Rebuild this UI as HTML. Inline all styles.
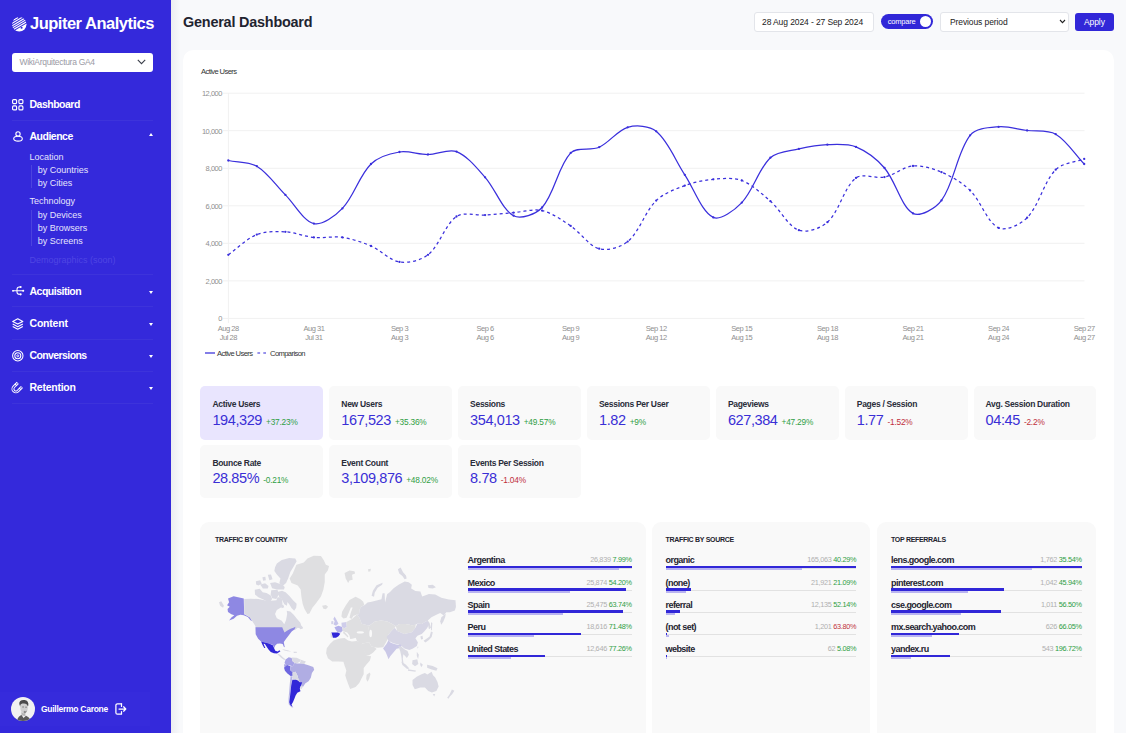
<!DOCTYPE html>
<html><head><meta charset="utf-8"><title>Jupiter Analytics</title>
<style>
*{box-sizing:border-box;margin:0;padding:0}
html,body{width:1126px;height:733px;overflow:hidden;background:#f8f9fb;font-family:"Liberation Sans",sans-serif;}
body{position:relative}
.abs{position:absolute}
#side{position:absolute;left:0;top:0;width:171px;height:733px;background:#3429db;color:#fff}
#main{position:absolute;left:182.9px;top:49.8px;width:930.8px;height:700px;background:#fff;border-radius:10.5px}
.chart{position:absolute;left:0;top:0;font-family:"Liberation Sans",sans-serif}
h1{position:absolute;left:183px;top:14px;font-size:14.4px;font-weight:bold;color:#1f2430;letter-spacing:-0.2px;white-space:nowrap}
.card{position:absolute;width:122.8px;height:53.2px;background:#f9f9f9;border-radius:5px}
.card.act{background:#e9e5fe}
.cl{position:absolute;left:12px;top:12.3px;font-size:8.5px;font-weight:bold;color:#2a2d3a;white-space:nowrap;letter-spacing:-0.3px}
.cv{position:absolute;left:12px;top:24.5px;white-space:nowrap}
.cv .v{font-size:14.5px;color:#3a2fd6;letter-spacing:-0.4px}
.cv .c{font-size:8.3px;margin-left:4px;letter-spacing:-0.2px}
.g{color:#2f9e44} .r{color:#c0303b}
.panel{position:absolute;top:521.7px;height:230px;background:#f9f9f9;border-radius:9px}
.pt{position:absolute;top:536px;font-size:7px;font-weight:bold;color:#1f2430;letter-spacing:-0.3px;white-space:nowrap}
.row{position:absolute;height:20px}
.row .n{position:absolute;left:0;top:2.1px;font-size:9px;font-weight:bold;color:#1f2430;white-space:nowrap;letter-spacing:-0.55px}
.row .rt{position:absolute;right:0;top:2px;font-size:7.3px;white-space:nowrap;letter-spacing:-0.3px}
.row .q{color:#b0b0b0}
.row .ln{position:absolute;left:0;right:0;top:14.5px;height:1px;background:#e2e2e2}
.row .b1{position:absolute;left:0;top:13.1px;height:2.4px;background:#3127d8}
.row .b2{position:absolute;left:0;top:15.4px;height:2.1px;background:#b9b4f1}
</style></head><body>
<div id="side"><style>
#side .t{position:absolute;white-space:nowrap;color:#fff}
#side .b{font-weight:bold;font-size:10.5px;left:29.5px;letter-spacing:-0.5px}
#side .s{font-size:9px;left:29.5px;color:#e6e4fb}
#side .s2{left:37.7px}
#side .dv{position:absolute;left:12px;width:141px;height:1px;background:#3d33db}
#side .vl{position:absolute;left:31px;width:1px;background:#4c43de}
#side svg{position:absolute;overflow:visible}
#side .ca{position:absolute;left:149px;width:0;height:0;border-left:2.6px solid transparent;border-right:2.6px solid transparent}
#side .up{border-bottom:3.8px solid #fff}
#side .dn{border-top:3.8px solid #fff}
</style>
<svg style="left:11.5px;top:17px" width="14.5" height="14.5" viewBox="0 0 14.5 14.5"><defs><clipPath id="lc"><circle cx="7.25" cy="7.25" r="7.25"/></clipPath></defs><g clip-path="url(#lc)" stroke="#fff" stroke-width="1.15" fill="none"><path d="M1.2 3.3 L6 0.4 M-1 7 L11 -0.2 M-1 9.4 L14 0.4 M-1 11.8 L15 2.2 M1.5 12.6 L15 4.5"/><path d="M2.5 13.8 L15 6.2 V15 H2.5 Z" fill="#fff" stroke="none"/><circle cx="9.6" cy="10.7" r="1.05" fill="#3429db" stroke="none"/></g></svg>
<div class="t" id="logo" style="left:30px;top:13.5px;font-size:16.5px;font-weight:bold;letter-spacing:-0.5px">Jupiter Analytics</div>
<div style="position:absolute;left:12px;top:52.5px;width:141px;height:19px;background:#fff;border-radius:3px"></div>
<div class="t" id="sel" style="left:19.5px;top:57px;font-size:8.5px;color:#9a9aa5;letter-spacing:-0.3px">WikiArquitectura GA4</div>
<svg style="left:136.5px;top:58.5px" width="9" height="6" viewBox="0 0 9 6"><path d="M0.8 0.8 L4.5 4.6 L8.2 0.8" fill="none" stroke="#3b3f4a" stroke-width="1.1"/></svg>

<svg style="left:12px;top:99px" width="11.5" height="11.5" viewBox="0 0 11.5 11.5" fill="none" stroke="#fff" stroke-width="1.15"><rect x="0.6" y="0.6" width="4" height="4" rx="1"/><rect x="6.9" y="0.6" width="4" height="4" rx="1"/><rect x="0.6" y="6.9" width="4" height="4" rx="1"/><rect x="6.9" y="6.9" width="4" height="4" rx="1"/></svg>
<div class="t b" id="n1" style="top:98px">Dashboard</div>
<div class="dv" style="top:120px"></div>

<svg style="left:12.5px;top:131px" width="10" height="11.5" viewBox="0 0 10 11.5" fill="none" stroke="#fff" stroke-width="1.1"><ellipse cx="5" cy="7.7" rx="4.3" ry="2.45"/><circle cx="5" cy="2.9" r="2.15" fill="#3429db"/></svg>
<div class="t b" id="n2" style="top:130px">Audience</div>
<div class="ca up" style="top:132.5px"></div>
<div class="t s" id="s1" style="top:151.5px">Location</div>
<div class="vl" style="top:164.5px;height:23px"></div>
<div class="t s s2" id="s2" style="top:164.7px">by Countries</div>
<div class="t s s2" id="s3" style="top:177.7px">by Cities</div>
<div class="t s" id="s4" style="top:196px">Technology</div>
<div class="vl" style="top:209.5px;height:36px"></div>
<div class="t s s2" id="s5" style="top:209.5px">by Devices</div>
<div class="t s s2" id="s6" style="top:222.5px">by Browsers</div>
<div class="t s s2" id="s7" style="top:235.5px">by Screens</div>
<div class="t s" id="s8" style="top:255px;color:#4f46e3">Demographics (soon)</div>
<div class="dv" style="top:274px"></div>

<svg style="left:11.5px;top:286px" width="12.5" height="10" viewBox="0 0 12.5 10" fill="none" stroke="#fff" stroke-width="1.05" stroke-linecap="round"><path d="M0.9 4.8 H11.3"/><path d="M8.4 1 H7.3 C5.6 1 5 2 5 3.4 V6 C5 7.5 5.6 8.3 7.3 8.3 H8.4"/><g fill="#fff" stroke="none"><circle cx="1" cy="4.8" r="0.9"/><circle cx="11.2" cy="4.8" r="1.05"/><circle cx="8.6" cy="1" r="1.1"/><circle cx="8.6" cy="8.3" r="1.1"/></g></svg>
<div class="t b" id="n3" style="top:284.5px">Acquisition</div>
<div class="ca dn" style="top:291px"></div>
<div class="dv" style="top:306px"></div>

<svg style="left:12px;top:317.5px" width="11.5" height="12" viewBox="0 0 11.5 12" fill="none" stroke="#fff" stroke-width="1.1" stroke-linejoin="round"><path d="M5.75 0.7 L10.8 3.4 L5.75 6.1 L0.7 3.4 Z"/><path d="M0.7 6 L5.75 8.7 L10.8 6"/><path d="M0.7 8.6 L5.75 11.3 L10.8 8.6"/></svg>
<div class="t b" id="n4" style="top:316.5px;letter-spacing:-0.2px">Content</div>
<div class="ca dn" style="top:323px"></div>
<div class="dv" style="top:338.5px"></div>

<svg style="left:11.7px;top:349.7px" width="11.6" height="11.6" viewBox="0 0 11.6 11.6" fill="none" stroke="#fff" stroke-width="1.05"><circle cx="5.8" cy="5.8" r="5.2"/><circle cx="5.8" cy="5.8" r="3"/><circle cx="5.8" cy="5.8" r="1" stroke-width="0.9"/></svg>
<div class="t b" id="n5" style="top:349px;letter-spacing:-0.6px">Conversions</div>
<div class="ca dn" style="top:355px"></div>
<div class="dv" style="top:371px"></div>

<svg style="left:0;top:0" width="40" height="400" viewBox="0 0 40 400" fill="none"><g transform="translate(15.9,388.9) rotate(-45)" stroke-linecap="butt"><path d="M5.6 -2.95 H0 A2.95 2.95 0 0 0 0 2.95 H5.6" stroke="#fff" stroke-width="2.9"/><path d="M5.0 -2.95 H0 A2.95 2.95 0 0 0 0 2.95 H5.0" stroke="#3429db" stroke-width="1.0"/><path d="M2.9 -4.4 V-1.5 M2.9 1.5 V4.4" stroke="#fff" stroke-width="1.1"/></g></svg>
<div class="t b" id="n6" style="top:381px;letter-spacing:-0.25px">Retention</div>
<div class="ca dn" style="top:387px"></div>
<div class="dv" style="top:403px"></div>

<div style="position:absolute;left:0;top:692px;width:150px;height:34px;background:#362bdc"></div>
<svg style="left:11px;top:696.5px" width="24" height="24" viewBox="0 0 24 24"><defs><clipPath id="av"><circle cx="12" cy="12" r="12"/></clipPath></defs><g clip-path="url(#av)"><rect width="24" height="24" fill="#f1f1f1"/><path d="M8.3 7 C8 4 10.5 2.5 13.5 3 C16.5 3.3 17.8 5.5 17.3 8.5 L16.8 9.5 C16 7.5 14.5 6.6 12 7 C10.5 7.2 9.5 8 9.3 10 Z" fill="#4a4a4a"/><path d="M9.3 8.5 C9.5 7 11 6.5 13 6.6 C15.3 6.7 16.8 8 16.8 10.5 C16.8 13.5 15.5 16.3 13.6 16.5 C11.5 16.6 9.8 14.5 9.4 12 Z" fill="#cfcfcf"/><path d="M13 13.8 C14 14.5 15 14.3 15.8 13.6 C15.5 15.3 14.6 16.4 13.6 16.5 C12.8 16.4 12.5 15 13 13.8Z" fill="#8c8c8c"/><path d="M10.3 15 L10.5 18.5 L14.5 19 L14.2 16.3 C12.5 16.8 11.2 16 10.3 15Z" fill="#b5b5b5"/><path d="M6 24 C6.5 20.5 8.5 18.5 10.5 18 L12.5 21 L15 18.8 C17.5 19.8 19 21.5 19.5 24 Z" fill="#5a5a5a"/><path d="M11.3 10 h1.6 M14.3 10.2 h1.5" stroke="#555" stroke-width="0.7"/></g></svg>
<div class="t" id="usr" style="left:41px;top:703.5px;font-size:8.5px;font-weight:bold;letter-spacing:-0.27px">Guillermo Carone</div>
<svg style="left:115px;top:702.5px" width="12" height="12" viewBox="0 0 12 12" fill="none" stroke="#fff" stroke-width="1.25" stroke-linecap="round" stroke-linejoin="round"><path d="M6.5 0.8 H2.4 C1.5 0.8 0.9 1.4 0.9 2.3 V9.7 C0.9 10.6 1.5 11.2 2.4 11.2 H6.5 V8.6"/><path d="M6.5 0.8 V3.4"/><path d="M4 6 H10.6 M8.6 3.8 L10.8 6 L8.6 8.2"/></svg>
</div>
<div class="abs" style="left:171px;top:0;width:9px;height:733px;background:linear-gradient(to right,#ecedf0,#f8f9fb)"></div>
<h1>General Dashboard</h1>
<div class="abs" style="left:754px;top:11.5px;width:120px;height:20px;background:#fff;border:1px solid #e3e5ea;border-radius:3px;font-size:8.5px;color:#222;line-height:18.5px;padding-left:7px;letter-spacing:-0.1px;white-space:nowrap">28 Aug 2024 - 27 Sep 2024</div>
<div class="abs" style="left:880.7px;top:14.4px;width:52px;height:14.6px;background:#3127d8;border-radius:8px;color:#fff;font-size:7.5px;line-height:16.4px;padding-left:7px;letter-spacing:-0.2px">compare<span class="abs" style="right:1.6px;top:1.6px;width:11.4px;height:11.4px;border-radius:6px;background:#fff"></span></div>
<div class="abs" style="left:940px;top:11.5px;width:129px;height:20px;background:#fff;border:1px solid #e3e5ea;border-radius:3px;font-size:8.5px;color:#222;line-height:18.5px;padding-left:9px;letter-spacing:-0.1px">Previous period<svg class="abs" style="right:2.3px;top:6.5px" width="7" height="5" viewBox="0 0 7 5"><path d="M1 1 L3.5 3.6 L6 1" fill="none" stroke="#222" stroke-width="1.1"/></svg></div>
<div class="abs" style="left:1075.2px;top:12.5px;width:38.5px;height:18.2px;background:#3127d8;border-radius:3px;color:#fff;font-size:8.5px;line-height:19.6px;text-align:center;letter-spacing:-0.1px">Apply</div>
<div id="main"></div>
<svg class="chart" width="1126" height="733" viewBox="0 0 1126 733">
<g stroke="#f1f1f1" stroke-width="1"><line x1="223" x2="1084.5" y1="318.4" y2="318.4"/><line x1="223" x2="1084.5" y1="280.9" y2="280.9"/><line x1="223" x2="1084.5" y1="243.3" y2="243.3"/><line x1="223" x2="1084.5" y1="205.8" y2="205.8"/><line x1="223" x2="1084.5" y1="168.3" y2="168.3"/><line x1="223" x2="1084.5" y1="130.7" y2="130.7"/><line x1="223" x2="1084.5" y1="93.2" y2="93.2"/><line x1="228.4" x2="228.4" y1="93" y2="323"/></g>
<g font-size="7.5" fill="#8f8f8f" letter-spacing="-0.47"><text x="222" y="321.2" text-anchor="end">0</text><text x="222" y="283.7" text-anchor="end">2,000</text><text x="222" y="246.1" text-anchor="end">4,000</text><text x="222" y="208.6" text-anchor="end">6,000</text><text x="222" y="171.1" text-anchor="end">8,000</text><text x="222" y="133.5" text-anchor="end">10,000</text><text x="222" y="96.0" text-anchor="end">12,000</text><text x="228.3" y="331.4" text-anchor="middle">Aug 28</text><text x="228.3" y="340.1" text-anchor="middle">Jul 28</text><text x="313.9" y="331.4" text-anchor="middle">Aug 31</text><text x="313.9" y="340.1" text-anchor="middle">Jul 31</text><text x="399.5" y="331.4" text-anchor="middle">Sep 3</text><text x="399.5" y="340.1" text-anchor="middle">Aug 3</text><text x="485.1" y="331.4" text-anchor="middle">Sep 6</text><text x="485.1" y="340.1" text-anchor="middle">Aug 6</text><text x="570.7" y="331.4" text-anchor="middle">Sep 9</text><text x="570.7" y="340.1" text-anchor="middle">Aug 9</text><text x="656.2" y="331.4" text-anchor="middle">Sep 12</text><text x="656.2" y="340.1" text-anchor="middle">Aug 12</text><text x="741.8" y="331.4" text-anchor="middle">Sep 15</text><text x="741.8" y="340.1" text-anchor="middle">Aug 15</text><text x="827.4" y="331.4" text-anchor="middle">Sep 18</text><text x="827.4" y="340.1" text-anchor="middle">Aug 18</text><text x="913.0" y="331.4" text-anchor="middle">Sep 21</text><text x="913.0" y="340.1" text-anchor="middle">Aug 21</text><text x="998.6" y="331.4" text-anchor="middle">Sep 24</text><text x="998.6" y="340.1" text-anchor="middle">Aug 24</text><text x="1084.2" y="331.4" text-anchor="middle">Sep 27</text><text x="1084.2" y="340.1" text-anchor="middle">Aug 27</text></g>
<text x="201" y="73.7" font-size="7.6" fill="#333" letter-spacing="-0.6">Active Users</text>
<path d="M228.3 160.5 C237.7 162.4 249.0 161.5 256.8 166.2 C267.8 172.8 275.9 185.4 285.4 194.9 C294.8 204.4 303.4 221.1 313.9 223.6 C322.3 225.6 335.3 215.9 342.4 208.4 C354.1 196.2 359.1 175.7 371.0 164.0 C377.9 157.1 389.7 153.6 399.5 152.0 C408.5 150.5 418.6 154.6 428.0 154.5 C437.4 154.4 448.5 148.4 456.5 151.6 C467.3 155.9 476.7 167.9 485.1 177.3 C495.5 189.0 502.0 209.6 513.6 215.7 C520.8 219.5 536.0 214.2 542.1 207.5 C554.8 193.5 557.9 166.4 570.7 152.9 C576.7 146.5 590.6 151.0 599.2 147.2 C609.4 142.6 617.4 130.2 627.7 127.3 C636.3 124.9 649.5 125.7 656.2 131.3 C668.4 141.4 675.3 160.5 684.8 174.8 C694.1 188.9 701.7 211.8 713.3 217.4 C720.6 220.9 734.7 210.0 741.8 202.6 C753.6 190.3 758.3 169.1 770.4 157.7 C777.1 151.3 789.3 151.1 798.9 148.9 C808.2 146.8 818.0 145.0 827.4 144.7 C836.8 144.4 847.6 143.5 856.0 146.9 C866.4 151.2 877.0 159.3 884.5 168.0 C895.8 181.2 901.1 206.7 913.0 213.4 C920.0 217.3 935.8 208.3 941.5 200.4 C954.6 182.5 956.8 152.4 970.1 135.3 C975.6 128.1 989.0 127.6 998.6 126.8 C1007.9 126.0 1017.7 129.3 1027.1 130.5 C1036.6 131.7 1047.9 129.7 1055.7 134.2 C1066.8 140.7 1074.8 154.2 1084.2 164.0" fill="none" stroke="#3a2fdc" stroke-width="1.25"/>
<path d="M228.3 254.8 C237.7 248.1 246.5 238.8 256.8 234.6 C265.3 231.2 276.0 231.3 285.4 231.8 C294.8 232.3 304.4 236.5 313.9 237.4 C323.2 238.3 333.2 236.0 342.4 237.4 C352.0 238.8 362.0 242.1 371.0 246.0 C380.8 250.2 389.6 260.4 399.5 261.9 C408.4 263.3 420.8 260.5 428.0 254.8 C439.7 245.5 444.8 224.7 456.5 216.5 C463.6 211.6 475.7 215.7 485.1 215.1 C494.5 214.5 504.2 213.3 513.6 212.6 C523.0 211.9 533.3 208.5 542.1 210.6 C552.1 212.9 561.8 220.0 570.7 225.9 C580.6 232.6 588.8 245.8 599.2 248.7 C607.6 251.0 620.7 247.5 627.7 241.6 C639.6 231.6 644.8 211.8 656.2 200.6 C663.6 193.4 674.9 189.3 684.8 185.6 C693.7 182.3 703.8 180.2 713.3 179.3 C722.6 178.5 733.4 177.3 741.8 180.5 C752.2 184.5 761.6 193.6 770.4 201.2 C780.5 210.0 788.0 226.2 798.9 230.2 C806.8 233.1 820.7 228.4 827.4 222.2 C839.5 211.2 843.7 187.6 856.0 177.9 C862.6 172.7 875.4 179.0 884.5 177.1 C894.2 175.1 903.4 166.8 913.0 166.0 C922.2 165.2 932.8 168.5 941.5 172.2 C951.7 176.5 962.2 182.7 970.1 190.4 C981.0 201.1 987.1 222.4 998.6 227.9 C1006.0 231.4 1020.5 224.5 1027.1 217.7 C1039.3 205.2 1043.5 182.2 1055.7 169.7 C1062.3 162.8 1074.8 162.5 1084.2 158.9" fill="none" stroke="#3a2fdc" stroke-width="1.25" stroke-dasharray="3 3"/>
<g fill="#3a2fdc"><circle cx="228.3" cy="160.5" r="1.15"/><circle cx="256.8" cy="166.2" r="1.15"/><circle cx="285.4" cy="194.9" r="1.15"/><circle cx="313.9" cy="223.6" r="1.15"/><circle cx="342.4" cy="208.4" r="1.15"/><circle cx="371.0" cy="164.0" r="1.15"/><circle cx="399.5" cy="152.0" r="1.15"/><circle cx="428.0" cy="154.5" r="1.15"/><circle cx="456.5" cy="151.6" r="1.15"/><circle cx="485.1" cy="177.3" r="1.15"/><circle cx="513.6" cy="215.7" r="1.15"/><circle cx="542.1" cy="207.5" r="1.15"/><circle cx="570.7" cy="152.9" r="1.15"/><circle cx="599.2" cy="147.2" r="1.15"/><circle cx="627.7" cy="127.3" r="1.15"/><circle cx="656.2" cy="131.3" r="1.15"/><circle cx="684.8" cy="174.8" r="1.15"/><circle cx="713.3" cy="217.4" r="1.15"/><circle cx="741.8" cy="202.6" r="1.15"/><circle cx="770.4" cy="157.7" r="1.15"/><circle cx="798.9" cy="148.9" r="1.15"/><circle cx="827.4" cy="144.7" r="1.15"/><circle cx="856.0" cy="146.9" r="1.15"/><circle cx="884.5" cy="168.0" r="1.15"/><circle cx="913.0" cy="213.4" r="1.15"/><circle cx="941.5" cy="200.4" r="1.15"/><circle cx="970.1" cy="135.3" r="1.15"/><circle cx="998.6" cy="126.8" r="1.15"/><circle cx="1027.1" cy="130.5" r="1.15"/><circle cx="1055.7" cy="134.2" r="1.15"/><circle cx="1084.2" cy="164.0" r="1.15"/><circle cx="228.3" cy="254.8" r="1.15"/><circle cx="256.8" cy="234.6" r="1.15"/><circle cx="285.4" cy="231.8" r="1.15"/><circle cx="313.9" cy="237.4" r="1.15"/><circle cx="342.4" cy="237.4" r="1.15"/><circle cx="371.0" cy="246.0" r="1.15"/><circle cx="399.5" cy="261.9" r="1.15"/><circle cx="428.0" cy="254.8" r="1.15"/><circle cx="456.5" cy="216.5" r="1.15"/><circle cx="485.1" cy="215.1" r="1.15"/><circle cx="513.6" cy="212.6" r="1.15"/><circle cx="542.1" cy="210.6" r="1.15"/><circle cx="570.7" cy="225.9" r="1.15"/><circle cx="599.2" cy="248.7" r="1.15"/><circle cx="627.7" cy="241.6" r="1.15"/><circle cx="656.2" cy="200.6" r="1.15"/><circle cx="684.8" cy="185.6" r="1.15"/><circle cx="713.3" cy="179.3" r="1.15"/><circle cx="741.8" cy="180.5" r="1.15"/><circle cx="770.4" cy="201.2" r="1.15"/><circle cx="798.9" cy="230.2" r="1.15"/><circle cx="827.4" cy="222.2" r="1.15"/><circle cx="856.0" cy="177.9" r="1.15"/><circle cx="884.5" cy="177.1" r="1.15"/><circle cx="913.0" cy="166.0" r="1.15"/><circle cx="941.5" cy="172.2" r="1.15"/><circle cx="970.1" cy="190.4" r="1.15"/><circle cx="998.6" cy="227.9" r="1.15"/><circle cx="1027.1" cy="217.7" r="1.15"/><circle cx="1055.7" cy="169.7" r="1.15"/><circle cx="1084.2" cy="158.9" r="1.15"/></g>
<line x1="205" x2="215" y1="353" y2="353" stroke="#3127d8" stroke-width="1.2"/>
<text x="217" y="355.8" font-size="7.6" fill="#333" letter-spacing="-0.6">Active Users</text>
<line x1="257.4" x2="266.2" y1="353" y2="353" stroke="#3127d8" stroke-width="1.2" stroke-dasharray="2.7 3.2"/>
<text x="270" y="355.8" font-size="7.6" fill="#333" letter-spacing="-0.6">Comparison</text>
</svg>
<div class="card act" style="left:200.4px;top:386.4px"><div class="cl" style="top:12.3px">Active Users</div><div class="cv" style="top:24.5px"><span class="v">194,329</span><span class="c g">+37.23%</span></div></div><div class="card" style="left:329.3px;top:386.4px"><div class="cl" style="top:12.3px">New Users</div><div class="cv" style="top:24.5px"><span class="v">167,523</span><span class="c g">+35.36%</span></div></div><div class="card" style="left:458.1px;top:386.4px"><div class="cl" style="top:12.3px">Sessions</div><div class="cv" style="top:24.5px"><span class="v">354,013</span><span class="c g">+49.57%</span></div></div><div class="card" style="left:587.0px;top:386.4px"><div class="cl" style="top:12.3px">Sessions Per User</div><div class="cv" style="top:24.5px"><span class="v">1.82</span><span class="c g">+9%</span></div></div><div class="card" style="left:715.9px;top:386.4px"><div class="cl" style="top:12.3px">Pageviews</div><div class="cv" style="top:24.5px"><span class="v">627,384</span><span class="c g">+47.29%</span></div></div><div class="card" style="left:844.8px;top:386.4px"><div class="cl" style="top:12.3px">Pages / Session</div><div class="cv" style="top:24.5px"><span class="v">1.77</span><span class="c r">-1.52%</span></div></div><div class="card" style="left:973.6px;top:386.4px"><div class="cl" style="top:12.3px">Avg. Session Duration</div><div class="cv" style="top:24.5px"><span class="v">04:45</span><span class="c r">-2.2%</span></div></div><div class="card" style="left:200.4px;top:445.2px"><div class="cl" style="top:12.9px">Bounce Rate</div><div class="cv" style="top:23.9px"><span class="v">28.85%</span><span class="c g">-0.21%</span></div></div><div class="card" style="left:329.3px;top:445.2px"><div class="cl" style="top:12.9px">Event Count</div><div class="cv" style="top:23.9px"><span class="v">3,109,876</span><span class="c g">+48.02%</span></div></div><div class="card" style="left:458.1px;top:445.2px"><div class="cl" style="top:12.9px">Events Per Session</div><div class="cv" style="top:23.9px"><span class="v">8.78</span><span class="c r">-1.04%</span></div></div>
<div class="panel" style="left:200.4px;width:445.4px"></div>
<div class="panel" style="left:651.6px;width:218.9px"></div>
<div class="panel" style="left:877px;width:219.4px"></div>
<div class="pt" style="left:215px">TRAFFIC BY COUNTRY</div>
<div class="pt" style="left:665.5px">TRAFFIC BY SOURCE</div>
<div class="pt" style="left:891px">TOP REFERRALS</div>
<svg style="position:absolute;left:210px;top:550px" width="250" height="165" viewBox="0 0 1111 733"><polygon fill="#dadae3" points="40,232 50,228 62,248 58,256 45,248"/><polygon fill="#8e88e3" points="80,215 105,205 150,215 152,285 165,292 178,300 188,315 180,312 168,298 150,290 135,288 120,292 105,305 85,313 95,300 108,290 95,285 80,275 78,262 88,252 76,245 85,232"/><polygon fill="#dadae3" points="152,218 182,216 215,218 242,223 270,225 295,223 300,210 311,210 320,219 322,240 317,254 297,267 289,284 297,303 319,314 330,330 338,311 343,284 341,270 357,273 373,289 387,306 401,322 406,336 413,345 403,349 390,345 379,354 368,357 362,354 352,360 338,367 327,373 322,382 210,382 204,345 199,333 188,317 177,299 166,292 152,284"/><polygon fill="#dadae3" points="297,60 319,44 352,35 379,38 385,50 373,71 357,98 347,126 338,147 324,159 308,148 313,127 297,109 286,93 289,76"/><polygon fill="#dadae3" points="300,187 320,181 336,188 353,204 369,223 385,239 383,256 374,270 362,258 352,241 344,231 342,248 330,241 319,219 307,208"/><polygon fill="#dadae3" points="199,176 221,172 234,188 251,191 270,202 276,218 270,226 251,226 232,218 215,210 200,198"/><polygon fill="#dadae3" points="204,139 223,134 230,150 215,158 205,153"/><polygon fill="#dadae3" points="223,153 245,148 260,160 257,171 235,171"/><polygon fill="#dadae3" points="233,121 246,119 248,134 236,136"/><polygon fill="#dadae3" points="257,110 271,109 278,130 264,134"/><polygon fill="#dadae3" points="267,146 289,143 322,154 332,164 329,175 297,175 276,170"/><polygon fill="#dadae3" points="272,179 300,176 306,196 295,218 276,214 270,196"/><polygon fill="#dadae3" points="313,246 325,242 330,254 319,259"/><polygon fill="#dadae3" points="394,337 409,339 413,349 401,352"/><polygon fill="#dfdfe1" points="354,126 368,104 384,65 417,55 433,38 461,25 493,27 505,44 515,65 529,71 524,90 510,109 510,142 504,175 493,207 472,235 455,256 442,282 433,284 420,262 412,240 406,207 403,175 390,158 362,147"/><polygon fill="#dfdfe1" points="498,248 515,244 525,252 515,263 504,261"/><polygon fill="#8e88e3" points="202,343 321,343 326,355 331,367 344,358 358,350 371,345 380,341 376,352 363,362 352,377 340,392 328,409 331,426 333,432 328,430 323,418 311,415 298,416 289,425 286,435 282,426 278,421 262,415 240,410 227,407 214,394 203,374"/><polygon fill="#3127d8" points="227,407 240,410 262,415 279,423 285,437 290,448 301,451 308,445 313,450 298,460 284,459 270,453 260,442 251,429 244,418 238,416 241,424 246,435 241,435 233,421"/><polygon fill="#dadae3" points="298,460 311,464 325,478 337,486 331,489 320,482 306,470"/><polygon fill="#dadae3" points="320,440 344,445 362,451 345,450 328,445"/><polygon fill="#dadae3" points="371,452 385,452 387,457 373,458"/><polygon fill="#a7a3e6" points="336,486 350,476 363,480 367,494 377,502 367,517 350,511 339,511 331,502"/><polygon fill="#dadae3" points="363,478 385,479 404,488 399,497 385,504 377,502 367,494"/><polygon fill="#dadae3" points="404,488 426,495 419,507 399,504"/><polygon fill="#a9a5e6" points="329,508 344,509 342,522 331,524"/><polygon fill="#6d66e0" points="329,523 344,511 358,517 356,533 369,544 368,559 358,560 344,549 333,536"/><polygon fill="#b0ade3" points="367,517 377,502 385,504 399,504 419,507 437,512 459,520 463,532 453,547 448,568 438,583 423,593 413,609 404,603 399,588 393,573 388,557 380,541 369,544 356,533 358,517"/><polygon fill="#dadae3" points="365,544 380,541 388,557 393,573 399,577 382,577 369,574 367,559"/><polygon fill="#dadae3" points="393,573 399,588 411,589 404,602 399,590 389,579"/><polygon fill="#b5b2e6" points="358,560 367,562 365,577 361,601 357,628 354,655 352,677 358,691 371,700 362,699 350,685 349,661 352,628 355,590"/><polygon fill="#3127d8" points="366,577 382,577 391,580 399,588 410,588 405,601 399,615 402,628 388,634 380,648 375,661 369,675 362,688 368,696 358,691 352,677 355,655 358,628 361,601"/><polygon fill="#dadae3" points="405,601 413,607 407,618 400,615"/><polygon fill="#c8c6ea" points="554,295 563,312 571,328 560,337 549,331 554,317 548,306"/><polygon fill="#d3d2e8" points="539,317 548,315 548,329 539,330"/><polygon fill="#b3b0ea" points="553,343 571,336 587,342 590,358 582,367 568,367 560,356"/><polygon fill="#3127d8" points="539,366 568,367 579,372 571,383 560,390 546,390 543,378"/><polygon fill="#dfdfe1" points="535,370 540,369 543,389 537,389"/><polygon fill="#cfcdea" points="584,323 606,320 608,342 596,348 586,342"/><polygon fill="#dfdfe1" points="584,295 587,274 603,246 620,222 647,208 669,219 681,230 686,244 672,252 665,264 662,285 653,287 637,293 629,307 620,301 625,280 634,255 626,255 616,280 607,301 593,304"/><polygon fill="#dfdfe1" points="606,320 631,306 653,287 664,301 674,328 707,336 704,353 707,372 703,386 653,389 632,394 623,395 620,380 610,366 598,363 590,358 587,342 596,348 608,342"/><polygon fill="#dfdfe1" points="590,361 598,364 615,383 612,389 601,378 593,370"/><polygon fill="#dadae3" points="653,287 662,285 665,264 672,252 688,244 700,233 718,230 740,224 762,219 767,192 776,192 778,233 787,197 800,186 816,170 838,154 865,140 883,143 897,154 894,171 913,182 935,184 943,206 973,195 1001,198 1028,212 1061,220 1091,223 1093,253 1088,269 1066,277 1050,277 1039,291 1023,280 1006,288 984,299 968,313 976,324 982,345 973,352 968,329 962,315 941,329 922,327 914,332 897,334 870,329 842,329 826,339 810,329 788,318 761,313 733,318 707,336 674,328 664,301"/><polygon fill="#dadae3" points="1028,299 1048,283 1045,299 1037,318 1028,332 1023,318"/><polygon fill="#dadae3" points="982,321 988,324 986,356 982,356"/><polygon fill="#dfdfe1" points="598,102 620,91 642,94 645,104 631,110 634,132 620,135 614,146 603,126"/><polygon fill="#dfdfe1" points="702,85 715,83 713,94 704,96"/><polygon fill="#dadae3" points="835,85 847,78 858,99 871,113 874,126 865,130 855,115 841,104"/><polygon fill="#dadae3" points="718,203 724,181 740,156 767,145 765,154 745,168 732,190 729,208"/><polygon fill="#dadae3" points="968,157 990,154 1004,165 990,171 971,169"/><polygon fill="#dfdfe1" points="707,336 733,318 761,313 788,318 810,329 826,339 821,345 804,362 785,386 766,394 744,386 724,350 721,372 707,372 704,353"/><polygon fill="#dfdfe1" points="653,361 703,357 707,344 721,345 745,350 773,347 786,366 794,388 784,407 770,432 745,434 732,432 718,429 707,410 677,415 669,421 664,410 653,404 647,388 653,377"/><polygon fill="#dfdfe1" points="669,421 677,415 707,410 718,429 732,432 740,440 724,457 707,468 694,470 685,451"/><polygon fill="#dfdfe1" points="826,339 842,329 870,329 897,334 914,332 912,346 897,365 864,373 832,360"/><polygon fill="#d7d6e5" points="785,386 804,362 821,345 832,360 864,373 897,365 913,345 922,327 941,329 962,315 974,327 966,345 952,362 941,373 922,381 913,392 924,411 919,427 902,438 886,444 864,438 851,427 837,420 815,414 793,403"/><polygon fill="#cbc9e7" points="769,438 785,416 793,401 802,411 815,416 837,422 848,420 851,428 840,436 829,439 815,455 802,471 793,485 788,471 780,452"/><polygon fill="#dadae3" points="837,427 851,430 864,441 878,449 884,465 875,480 867,471 859,463 857,483 860,504 854,504 850,471 845,449"/><polygon fill="#dadae3" points="935,384 944,381 947,395 938,398"/><polygon fill="#dadae3" points="949,403 962,394 976,384 982,362 990,365 985,387 973,400 957,411"/><polygon fill="#dadae3" points="921,430 926,430 924,439"/><polygon fill="#dadae3" points="919,452 928,465 925,484 919,471"/><polygon fill="#dadae3" points="850,495 871,510 886,526 876,529 855,511"/><polygon fill="#dadae3" points="900,490 921,485 926,506 911,516 898,506"/><polygon fill="#dadae3" points="935,500 946,510 939,521 934,510"/><polygon fill="#dadae3" points="965,510 990,515 1011,525 1006,536 985,531 965,523"/><polygon fill="#dadae3" points="880,530 915,535 913,541 880,537"/><polygon fill="#dadae3" points="900,578 920,562 940,552 955,546 966,553 985,541 991,556 1001,567 1011,587 1016,607 1006,627 986,633 970,626 955,611 935,611 910,619 900,600"/><polygon fill="#dadae3" points="990,640 1001,640 996,651"/><polygon fill="#dadae3" points="1075,620 1086,625 1076,641 1066,651 1060,661 1054,656 1065,641"/><polygon fill="#dfdfe1" points="516,459 519,437 533,418 549,402 576,393 598,391 614,402 631,407 653,404 669,410 677,429 688,453 696,470 716,472 710,492 696,508 683,524 683,552 672,573 664,590 647,609 623,618 614,595 606,573 601,557 606,535 598,513 593,497 571,495 543,495 524,481"/><polygon fill="#dfdfe1" points="696,554 710,544 713,552 707,573 700,585 694,573"/><ellipse fill="#f9f9f9" cx="668" cy="366" rx="16" ry="5"/><ellipse fill="#f9f9f9" cx="714" cy="371" rx="6" ry="17"/></svg>
<div class="row" style="left:467.6px;top:553.0px;width:164px"><span class="n" style="top:2.0px">Argentina</span><span class="rt" style="top:2.0px"><span class="q">26,839</span> <span class="p g">7.99%</span></span><div class="ln"></div><div class="b1" style="width:100.00%"></div><div class="b2" style="width:92.60%"></div></div><div class="row" style="left:467.6px;top:575.2px;width:164px"><span class="n" style="top:2.8px">Mexico</span><span class="rt" style="top:2.8px"><span class="q">25,874</span> <span class="p g">54.20%</span></span><div class="ln"></div><div class="b1" style="width:96.40%"></div><div class="b2" style="width:62.52%"></div></div><div class="row" style="left:467.6px;top:597.4px;width:164px"><span class="n" style="top:2.6px">Spain</span><span class="rt" style="top:2.6px"><span class="q">25,475</span> <span class="p g">63.74%</span></span><div class="ln"></div><div class="b1" style="width:94.92%"></div><div class="b2" style="width:57.97%"></div></div><div class="row" style="left:467.6px;top:619.6px;width:164px"><span class="n" style="top:2.4px">Peru</span><span class="rt" style="top:2.4px"><span class="q">18,616</span> <span class="p g">71.48%</span></span><div class="ln"></div><div class="b1" style="width:69.36%"></div><div class="b2" style="width:40.45%"></div></div><div class="row" style="left:467.6px;top:641.8px;width:164px"><span class="n" style="top:2.2px">United States</span><span class="rt" style="top:2.2px"><span class="q">12,646</span> <span class="p g">77.26%</span></span><div class="ln"></div><div class="b1" style="width:47.12%"></div><div class="b2" style="width:26.58%"></div></div><div class="row" style="left:665.5px;top:553.0px;width:190.8px"><span class="n" style="top:2.0px">organic</span><span class="rt" style="top:2.0px"><span class="q">165,063</span> <span class="p g">40.29%</span></span><div class="ln"></div><div class="b1" style="width:100.00%"></div><div class="b2" style="width:71.28%"></div></div><div class="row" style="left:665.5px;top:575.2px;width:190.8px"><span class="n" style="top:2.8px">(none)</span><span class="rt" style="top:2.8px"><span class="q">21,921</span> <span class="p g">21.09%</span></span><div class="ln"></div><div class="b1" style="width:13.28%"></div><div class="b2" style="width:10.97%"></div></div><div class="row" style="left:665.5px;top:597.4px;width:190.8px"><span class="n" style="top:2.6px">referral</span><span class="rt" style="top:2.6px"><span class="q">12,135</span> <span class="p g">52.14%</span></span><div class="ln"></div><div class="b1" style="width:7.35%"></div><div class="b2" style="width:4.83%"></div></div><div class="row" style="left:665.5px;top:619.6px;width:190.8px"><span class="n" style="top:2.4px">(not set)</span><span class="rt" style="top:2.4px"><span class="q">1,201</span> <span class="p r">63.80%</span></span><div class="ln"></div><div class="b1" style="width:0.73%"></div><div class="b2" style="width:2.01%"></div></div><div class="row" style="left:665.5px;top:641.8px;width:190.8px"><span class="n" style="top:2.2px">website</span><span class="rt" style="top:2.2px"><span class="q">62</span> <span class="p g">5.08%</span></span><div class="ln"></div><div class="b1" style="width:0.30%"></div><div class="b2" style="width:0.20%"></div></div><div class="row" style="left:891.1px;top:553.0px;width:190.7px"><span class="n" style="top:2.0px">lens.google.com</span><span class="rt" style="top:2.0px"><span class="q">1,762</span> <span class="p g">35.54%</span></span><div class="ln"></div><div class="b1" style="width:100.00%"></div><div class="b2" style="width:73.78%"></div></div><div class="row" style="left:891.1px;top:575.2px;width:190.7px"><span class="n" style="top:2.8px">pinterest.com</span><span class="rt" style="top:2.8px"><span class="q">1,042</span> <span class="p g">45.94%</span></span><div class="ln"></div><div class="b1" style="width:59.14%"></div><div class="b2" style="width:40.52%"></div></div><div class="row" style="left:891.1px;top:597.4px;width:190.7px"><span class="n" style="top:2.6px">cse.google.com</span><span class="rt" style="top:2.6px"><span class="q">1,011</span> <span class="p g">56.50%</span></span><div class="ln"></div><div class="b1" style="width:57.38%"></div><div class="b2" style="width:36.66%"></div></div><div class="row" style="left:891.1px;top:619.6px;width:190.7px"><span class="n" style="top:2.4px">mx.search.yahoo.com</span><span class="rt" style="top:2.4px"><span class="q">626</span> <span class="p g">66.05%</span></span><div class="ln"></div><div class="b1" style="width:35.53%"></div><div class="b2" style="width:21.40%"></div></div><div class="row" style="left:891.1px;top:641.8px;width:190.7px"><span class="n" style="top:2.2px">yandex.ru</span><span class="rt" style="top:2.2px"><span class="q">543</span> <span class="p g">196.72%</span></span><div class="ln"></div><div class="b1" style="width:30.82%"></div><div class="b2" style="width:10.39%"></div></div>
</body></html>
